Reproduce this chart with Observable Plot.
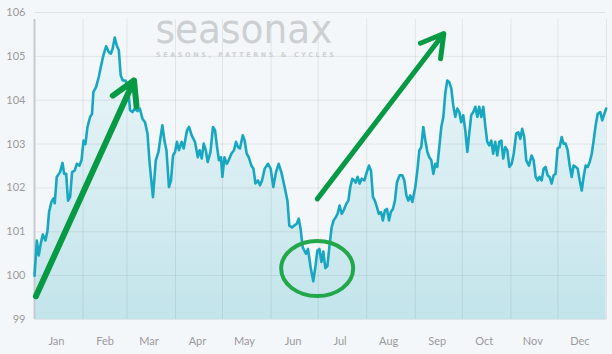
<!DOCTYPE html>
<html>
<head>
<meta charset="utf-8">
<script src="https://cdn.jsdelivr.net/npm/d3@7"></script>
<script src="https://cdn.jsdelivr.net/npm/@observablehq/plot@0.6"></script>
<style>
  html, body { margin: 0; padding: 0; background: #f4f7fa; }
  #chart { width: 612px; height: 354px; }
</style>
</head>
<body>
<div id="chart"></div>
<script>
// Day of year (0 = Jan 1) and seasonal index value
const days = [0,1.5,2.7,4,5.3,7,8.3,9.3,10.8,12.1,12.9,14.2,16.3,17.9,18.9,20.2,21.4,22.7,24,25.7,27,28.7,30,31.3,32.5,33.8,35.5,36.7,37.6,39.3,41,42.3,44,45.7,47.4,48.7,49.9,51.2,52.5,53.8,55,56.3,58,59.7,61,62.5,64,65.7,67.2,68.9,70.5,72.1,73.5,75.6,77.4,79.1,80.1,81.6,82.9,84.2,85.8,87.1,88.4,89.7,90.9,92.2,93.9,95.2,97.3,98.6,100.3,102.4,104.2,105.4,106.7,108,109.3,110.5,112.3,113.9,115.2,116.5,117.7,119,119.9,121.2,122.7,123.9,125.6,127.3,128.6,129.9,131.1,132.9,134.1,135.4,136.7,138.4,139.7,141,142.6,143.9,145.2,146.9,149,150.7,152.4,154.1,155.8,157.5,159.6,161.4,162.6,164.3,165.6,167.3,168.6,169.8,171.1,173.2,174.5,176.2,177.9,179.2,180.5,181.8,183.1,184.3,185.6,186.9,188.2,189.6,190.9,192.2,193.4,194.7,196,197.3,199,200.3,201.5,202.8,204.1,204.9,206.2,207.5,208.8,210.5,211.7,213.4,214.7,216,217.2,218.5,219.8,221.1,222.3,223.6,224.9,226.2,227.4,228.7,230,231.3,233,234.7,236,237.3,238.5,239.8,241.1,243,244.3,245.6,246.8,248.1,249.4,250.7,251.9,253.2,254.5,255.8,257,258.3,259.6,260.9,262.1,263.4,264.7,266,267.2,268.5,269.8,271.1,272.3,273.6,274.9,276.2,277.4,278.7,280,281.3,282.6,283.8,285.1,286.4,287.6,288.9,290.2,291.5,292.7,294,295.3,296.6,297.9,299.1,300.4,301.7,303,304.5,305.8,307.4,308.7,310,311.2,312.5,313.8,315.5,317.2,318.5,319.8,321.1,322.3,323.6,324.9,326.1,327.4,328.7,330,331.3,332.5,333.8,335.1,336.4,337.6,338.9,340.2,341.5,342.8,344,345.3,346.6,347.9,349.2,350.4,351.7,353,354.3,355.6,356.8,358.1,359.4,361,362.3,363.6,364.8];
const values = [100.0,100.8,100.46,100.73,100.94,100.8,101.03,101.45,101.68,101.76,101.65,102.25,102.36,102.57,102.32,102.32,101.71,101.79,102.36,102.4,102.55,102.51,102.63,103.08,103.0,103.39,103.62,103.69,104.19,104.3,104.53,104.76,105.03,105.23,105.1,105.06,105.18,105.43,105.25,105.14,104.57,104.45,104.45,104.3,103.77,103.73,103.81,103.75,103.81,103.58,103.5,103.24,102.55,101.79,102.63,102.82,103.08,103.43,103.08,102.86,102.02,102.17,102.74,102.82,103.05,102.86,103.05,102.9,103.31,103.39,103.2,103.05,102.7,102.86,102.67,103.01,102.86,102.59,102.82,103.39,103.31,102.93,102.63,102.7,102.25,102.7,102.55,102.63,102.78,102.86,103.05,102.93,102.9,103.2,103.08,102.78,102.7,102.51,102.44,102.1,102.17,102.06,102.17,102.44,102.55,102.44,102.02,102.36,102.55,102.36,102.02,101.71,101.14,101.1,101.14,101.18,101.3,101.07,100.65,100.5,100.61,100.19,99.87,100.19,100.57,100.61,100.31,100.55,100.17,100.22,100.67,101.1,101.26,101.33,101.41,101.6,101.41,101.49,101.64,101.71,102.02,102.21,102.17,102.12,102.25,102.1,102.21,102.17,102.32,102.51,102.4,101.79,101.71,101.56,101.41,101.45,101.26,101.49,101.52,101.26,101.45,101.52,101.71,102.13,102.29,102.29,102.17,101.83,101.71,101.83,101.68,102.02,102.4,102.86,102.93,103.39,103.08,102.82,102.7,102.63,102.32,102.55,102.48,102.93,103.39,103.62,104.15,104.45,104.41,104.26,103.88,103.62,103.81,103.73,103.5,103.66,103.31,102.82,103.24,103.66,103.73,103.85,103.62,103.85,103.62,103.85,103.43,103.05,102.97,103.08,102.78,103.05,102.74,103.05,103.08,102.67,102.93,102.86,102.48,102.55,102.78,103.24,103.27,103.12,103.35,103.16,102.63,102.51,102.74,102.63,102.25,102.17,102.25,102.17,102.44,102.48,102.29,102.25,102.1,102.29,102.32,102.9,102.93,103.16,103.01,103.01,102.86,102.51,102.25,102.51,102.48,102.44,102.17,101.94,102.25,102.51,102.48,102.59,102.78,103.08,103.43,103.69,103.73,103.54,103.69,103.81];

const monthStarts = [0,31,59,90,120,151,181,212,243,273,304,334,365];
const monthLabels = ["Jan","Feb","Mar","Apr","May","Jun","Jul","Aug","Sep","Oct","Nov","Dec"];
const labelDays = monthStarts.slice(0, 12).map(d => d + 14);
const yTicks = [99,100,101,102,103,104,105,106];

// annotation arrows (day, value)
const arrows = [
  {x1: 0.9, y1: 99.53, x2: 63.5, y2: 104.45},
  {x1: 180.5, y1: 101.75, x2: 261.2, y2: 105.52}
];
const circleMark = {x: 180.7, y: 100.15};

const data = days.map((d, i) => ({d, v: values[i]}));
const labelOf = new Map(labelDays.map((d, i) => [d, monthLabels[i]]));

const plot = Plot.plot({
  width: 612,
  height: 354,
  marginLeft: 34,
  marginRight: 6,
  marginTop: 12,
  marginBottom: 35,
  style: {background: "#f4f7fa", fontFamily: "Lato, 'Open Sans', sans-serif", fontSize: "11px", color: "#9a9a9a"},
  x: {domain: [0, 365], label: null},
  y: {domain: [99, 106], label: null},
  marks: [
    Plot.areaY(data, {x: "d", y1: 99, y2: "v", fill: "url(#areaGrad)"}),
    Plot.ruleY(yTicks, {stroke: "#000", strokeOpacity: 0.075}),
    Plot.ruleX(monthStarts.slice(1), {y1: 99, y2: 106, stroke: "#000", strokeOpacity: 0.075, insetBottom: -7}),
    Plot.ruleX([0], {y1: 99, y2: 106, stroke: "#c6cbd0", strokeWidth: 2, insetBottom: -7}),
    Plot.lineY(data, {x: "d", y: "v", stroke: "#17a7c0", strokeWidth: 2.6, strokeLinejoin: "round"}),
    Plot.axisY({ticks: yTicks, tickSize: 0, tickPadding: 9, tickFormat: d => String(d), label: null, fill: "#9a9a9a"}),
    Plot.axisX({ticks: labelDays, tickSize: 0, tickPadding: 18, tickFormat: d => labelOf.get(d), label: null, fill: "#9a9a9a"}),
    Plot.arrow([arrows[0]], {x1: "x1", y1: "y1", x2: "x2", y2: "y2", stroke: "#079a44", strokeWidth: 6, headLength: 6.5}),
    Plot.arrow([arrows[1]], {x1: "x1", y1: "y1", x2: "x2", y2: "y2", stroke: "#079a44", strokeWidth: 5, headLength: 7.6})
  ]
});

const svg = d3.select(plot);
const xs = plot.scale("x"), ys = plot.scale("y");
const grad = svg.insert("defs", ":first-child").append("linearGradient")
  .attr("id", "areaGrad").attr("gradientUnits", "userSpaceOnUse")
  .attr("x1", 0).attr("x2", 0).attr("y1", ys.apply(106)).attr("y2", ys.apply(99));
grad.append("stop").attr("offset", "0%").attr("stop-color", "#f1f8fa");
grad.append("stop").attr("offset", "100%").attr("stop-color", "#c2e4eb");

// watermark logo
const logo = svg.append("g").attr("fill", "#cdd0d2");
logo.append("text").text("seasonax")
  .attr("x", 244).attr("y", 43).attr("font-size", 40).attr("font-family", "'DejaVu Sans', sans-serif")
  .attr("textLength", 177).attr("lengthAdjust", "spacingAndGlyphs");
logo.append("text").text("SEASONS, PATTERNS & CYCLES")
  .attr("x", 245).attr("y", 57).attr("font-size", 6.5).attr("font-weight", "bold")
  .attr("font-family", "'DejaVu Sans', sans-serif")
  .attr("textLength", 178).attr("lengthAdjust", "spacing");

// ellipse highlight
svg.append("ellipse")
  .attr("cx", xs.apply(circleMark.x)).attr("cy", ys.apply(circleMark.y))
  .attr("rx", 36).attr("ry", 27.5)
  .attr("fill", "none").attr("stroke", "#22a84b").attr("stroke-width", 4);

document.getElementById("chart").appendChild(plot);
</script>
</body>
</html>
